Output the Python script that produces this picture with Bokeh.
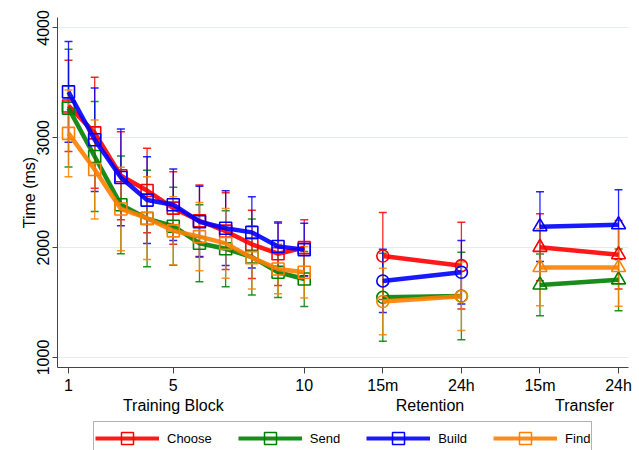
from bokeh.plotting import figure
from bokeh.layouts import column
from bokeh.models import Range1d, FixedTicker, LinearAxis, Legend, LegendItem
from bokeh.embed import file_html
from bokeh.resources import INLINE

# ---- data ----
series_names = ["Choose", "Send", "Build", "Find"]
series_colors = ["#ff0000", "#008000", "#0000ff", "#ff8000"]

train_x = [1, 2, 3, 4, 5, 6, 7, 8, 9, 10]
retention_x = [13, 16]
transfer_x = [19, 22]

choose_train = [3290, 3045, 2655, 2520, 2360, 2245, 2150, 2030, 1945, 2000]
choose_train_err = [415, 505, 400, 385, 330, 325, 350, 310, 290, 255]
send_train = [3270, 2830, 2390, 2265, 2195, 2040, 1990, 1915, 1776, 1715]
send_train_err = [535, 500, 445, 440, 355, 350, 345, 345, 230, 250]
build_train = [3418, 2982, 2639, 2433, 2391, 2236, 2177, 2139, 2010, 1982]
build_train_err = [459, 472, 440, 395, 325, 322, 340, 325, 215, 240]
find_train = [3040, 2711, 2352, 2268, 2153, 2100, 2039, 1909, 1806, 1776]
find_train_err = [395, 450, 380, 377, 311, 310, 318, 285, 225, 234]

choose_ret = [1924, 1836]
choose_ret_err = [397, 395]
send_ret = [1548, 1560]
send_ret_err = [400, 398]
build_ret = [1697, 1776]
build_ret_err = [288, 288]
find_ret = [1510, 1557]
find_ret_err = [302, 312]

choose_tr = [2003, 1936]
choose_tr_err = [305, 312]
send_tr = [1661, 1707]
send_tr_err = [282, 281]
build_tr = [2191, 2209]
build_tr_err = [318, 318]
find_tr = [1820, 1820]
find_tr_err = [350, 354]

x_ticks = [1, 5, 10, 13, 16, 19, 22]
x_tick_labels = ["1", "5", "10", "15m", "24h", "15m", "24h"]
group_ticks = [5, 14.8, 20.7]
group_labels = ["Training Block", "Retention", "Transfer"]
y_ticks = [1000, 2000, 3000, 4000]

train_means = [choose_train, send_train, build_train, find_train]
train_errs = [choose_train_err, send_train_err, build_train_err, find_train_err]
ret_means = [choose_ret, send_ret, build_ret, find_ret]
ret_errs = [choose_ret_err, send_ret_err, build_ret_err, find_ret_err]
tr_means = [choose_tr, send_tr, build_tr, find_tr]
tr_errs = [choose_tr_err, send_tr_err, build_tr_err, find_tr_err]

FONT = "Liberation Sans"

p = figure(width=636, height=415, frame_width=571, frame_height=350,
           output_backend="svg", toolbar_location=None,
           x_range=Range1d(0.58, 22.38), y_range=Range1d(909, 4095),
           min_border_left=57, min_border_right=8, min_border_top=17,
           min_border_bottom=0)
p.outline_line_color = None
p.background_fill_color = "white"

# grid
p.xgrid.visible = False
p.ygrid.ticker = FixedTicker(ticks=y_ticks)
p.ygrid.grid_line_color = "#e3eded"
p.ygrid.grid_line_width = 1

# axes
p.yaxis.ticker = FixedTicker(ticks=y_ticks)
p.yaxis.major_label_orientation = "vertical"
p.yaxis.axis_label = "Time (ms)"
for ax in [p.yaxis[0], p.xaxis[0]]:
    ax.axis_line_color = "#444444"
    ax.major_tick_line_color = "#444444"
    ax.minor_tick_line_color = None
    ax.major_tick_in = 0
    ax.major_label_text_font = FONT
    ax.major_label_text_font_size = "16px"
    ax.major_label_text_color = "black"
    ax.axis_label_text_font = FONT
    ax.axis_label_text_font_size = "16px"
    ax.axis_label_text_font_style = "normal"
    ax.axis_label_text_color = "black"
p.yaxis.major_tick_out = 5
p.yaxis.major_label_standoff = 3
p.yaxis.axis_label_standoff = -3

p.xaxis.ticker = FixedTicker(ticks=x_ticks)
p.xaxis.major_label_overrides = {t: l for t, l in zip(x_ticks, x_tick_labels)}
p.xaxis.major_tick_out = 6
p.xaxis.major_label_standoff = 3

gaxis = LinearAxis(ticker=FixedTicker(ticks=group_ticks),
                   major_label_overrides={t: l for t, l in zip(group_ticks, group_labels)})
gaxis.axis_line_color = None
gaxis.major_tick_line_color = None
gaxis.minor_tick_line_color = None
gaxis.major_tick_out = 0
gaxis.major_tick_in = 0
gaxis.major_label_standoff = 0
gaxis.major_label_text_font = FONT
gaxis.major_label_text_font_size = "16px"
gaxis.major_label_text_color = "black"
p.add_layout(gaxis, "below")

# error bars
groups = [
    (train_x, train_means, train_errs),
    (retention_x, ret_means, ret_errs),
    (transfer_x, tr_means, tr_errs),
]
for xs, means, errs in groups:
    for i, c in enumerate(series_colors):
        up = [m + e for m, e in zip(means[i], errs[i])]
        lo = [m - e for m, e in zip(means[i], errs[i])]
        p.segment(x0=xs, y0=lo, x1=xs, y1=up, line_color=c, line_width=1.3, line_alpha=0.85)
        p.scatter(xs, up, marker="dash", size=8, line_color=c, line_width=1.5, line_alpha=0.85)
        p.scatter(xs, lo, marker="dash", size=8, line_color=c, line_width=1.5, line_alpha=0.85)

# lines and markers
markers = ["square", "circle", "triangle"]
msizes = [12, 12, 14]
for i, c in enumerate(series_colors):
    for (xs, means, errs), mk, ms in zip(groups, markers, msizes):
        p.line(xs, means[i], line_color=c, line_width=4.5, line_alpha=0.9)
        p.scatter(xs, means[i], marker=mk, size=ms, fill_color=None,
                  line_color=c, line_width=1.6)

# legend strip below the chart (its renderers hold the training series,
# which fall outside this strip's own ranges, so only the legend shows)
q = figure(width=636, height=34, output_backend="svg", toolbar_location=None,
           x_range=Range1d(0, 1), y_range=Range1d(0, 1),
           x_axis_type=None, y_axis_type=None, min_border=0)
q.outline_line_color = None
q.xgrid.visible = False
q.ygrid.visible = False
legend_items = []
for i, (name, c) in enumerate(zip(series_names, series_colors)):
    lr = q.line(train_x, train_means[i], line_color=c, line_width=4, line_alpha=0.9)
    sr = q.scatter(train_x, train_means[i], marker="square", fill_color=None,
                   line_color=c, line_width=1.5)
    legend_items.append(LegendItem(label=name, renderers=[lr, sr]))

legend = Legend(items=legend_items, orientation="horizontal", location=(36, -5))
legend.glyph_width = 64
legend.glyph_height = 30
legend.label_standoff = 8
legend.spacing = 26
legend.padding = 1
legend.margin = 0
legend.border_line_color = "#666666"
legend.border_line_width = 1
legend.label_text_font = FONT
legend.label_text_font_size = "13px"
legend.label_text_color = "black"
q.add_layout(legend, "center")

layout = column(p, q, spacing=0)
open("out.html", "w").write(file_html(layout, INLINE))
